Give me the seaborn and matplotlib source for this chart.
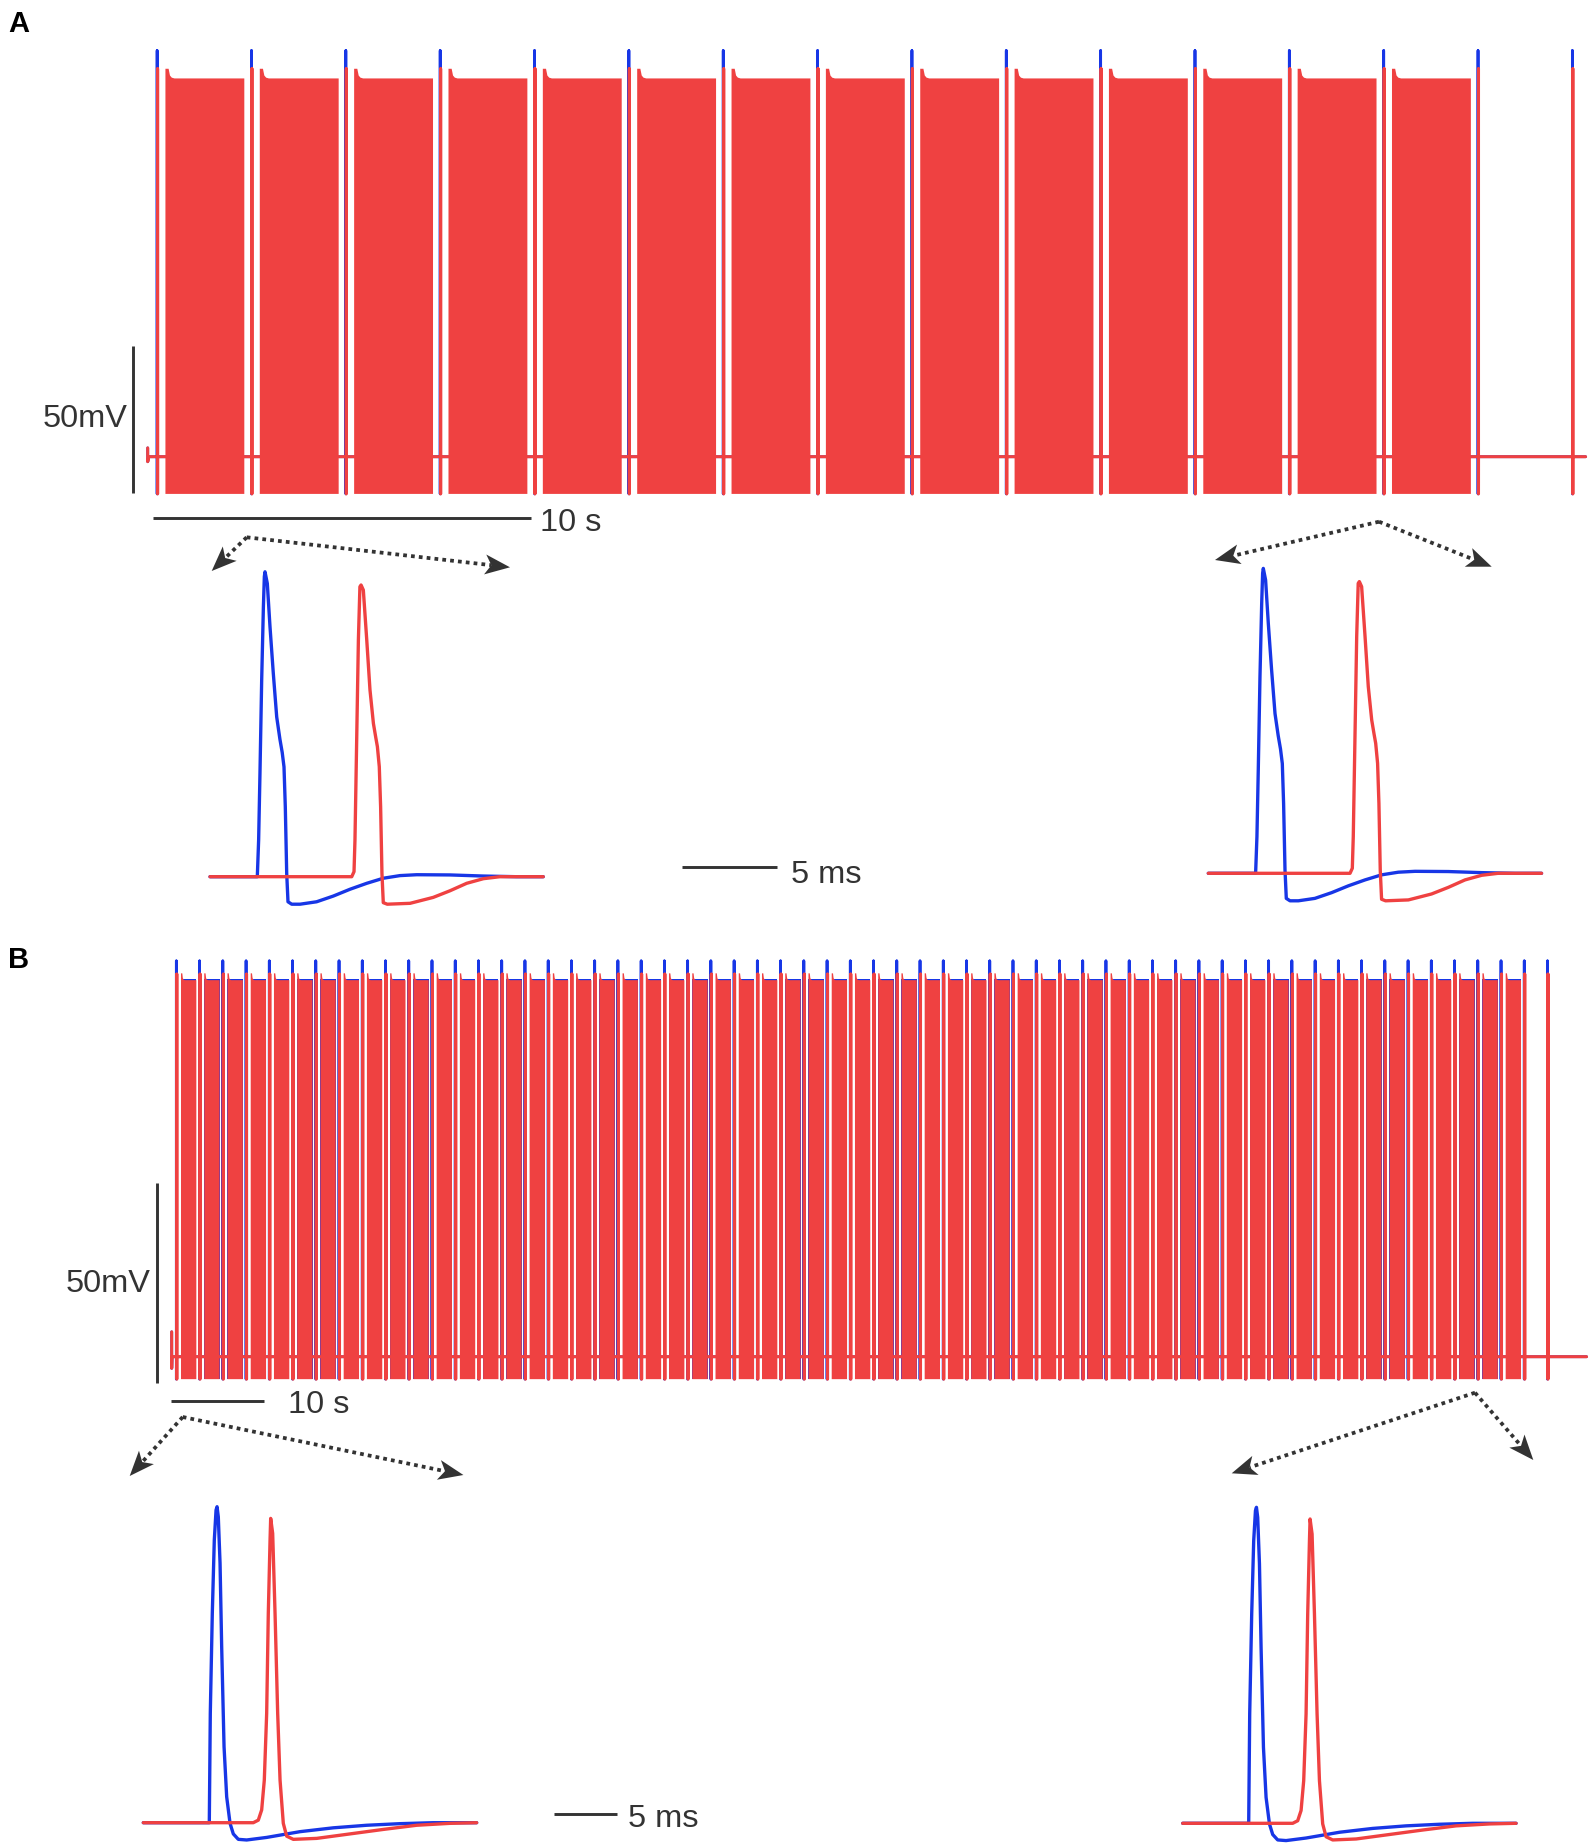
import matplotlib
matplotlib.use("Agg")
import matplotlib.pyplot as plt
import numpy as np
import pandas as pd
import seaborn as sns

W, H = 1594, 1848
RED = "#EF4141"
BLUE = "#1736E6"
INK = "#333333"

# ------------------------------------------------------------------
# Panel A: long recording (time in s, voltage in mV)
# ------------------------------------------------------------------
A_spikes = [0.25, 2.75, 5.25, 7.75, 10.25, 12.75, 15.25, 17.75,
            20.25, 22.75, 25.25, 27.75, 30.25, 32.75, 35.25, 37.75]
A_n_bursts = 14          # bursts follow the first 14 single spikes
A_burst_lag = 0.22       # s after the spike
A_burst_len = 2.09       # s
A_t_end = 38.1
A_rest = -65.0
A_blue_peak = 73.6
A_red_peak = 67.4
A_burst_top = 64.1
A_burst_bump = 67.4
A_trough = -77.7
A_start_tick = (-62.0, -66.7)

# ------------------------------------------------------------------
# Panel B: long recording
# ------------------------------------------------------------------
B_spikes = [0.5, 3.0, 5.5, 8.0, 10.5, 13.0, 15.5, 18.0, 20.5, 23.0,
            25.5, 28.0, 30.5, 33.0, 35.5, 38.0, 40.5, 43.0, 45.5, 48.0,
            50.5, 53.0, 55.5, 58.0, 60.5, 63.0, 65.5, 68.0, 70.5, 73.0,
            75.5, 78.0, 80.5, 83.0, 85.5, 88.0, 90.5, 93.0, 95.5, 98.0,
            100.5, 103.0, 105.5, 108.0, 110.5, 113.0, 115.5, 118.0, 120.5, 123.0,
            125.5, 128.0, 130.5, 133.0, 135.5, 138.0, 140.5, 143.0, 145.5, 148.0]
B_n_bursts = 58
B_burst_lag = 0.5
B_burst_len = 1.65
B_t_end = 152.2
B_rest = -65.0
B_blue_peak = 33.7
B_red_peak = 30.4
B_burst_top = 28.9
B_blue_burst_top = 29.3
B_burst_bump = 30.6
B_trough = -70.6
B_start_tick = (-58.8, -67.9)

# ------------------------------------------------------------------
# Zoomed single spikes (time in ms, voltage in mV)
# ------------------------------------------------------------------
A_ins_blue_t = [0, 2.49, 2.56, 2.63, 2.72, 2.81, 2.86, 2.895, 3.016, 3.158, 3.332,
                3.511, 3.68, 3.80, 3.895, 3.963, 4.037, 4.105, 4.3, 4.74, 5.61, 6.49,
                7.37, 8.25, 9.12, 10.0, 10.88, 12.63, 14.39, 16.14, 17.54]
A_ins_blue_v = [-65, -65, -48.3, -18.0, 24.4, 57.7, 71.4, 73.6, 68.3, 48.6, 27.4,
                7.6, -2.5, -8.5, -15.1, -33.2, -63.5, -76.4, -77.5, -77.5, -76.4, -73.8,
                -70.7, -68.0, -65.7, -64.5, -64.1, -64.2, -64.7, -65, -65]
A_ins_red_t = [0, 7.46, 7.58, 7.63, 7.72, 7.81, 7.89, 7.95, 8.07, 8.25, 8.42,
               8.6, 8.72, 8.81, 8.91, 8.98, 9.05, 9.12, 9.33, 10.53, 11.75, 12.63,
               13.51, 14.39, 15.26, 17.54]
A_ins_red_v = [-65, -65, -62.7, -48.3, -2.9, 42.6, 66.8, 67.6, 65.3, 42.6, 19.9,
               4.7, -1.5, -5.9, -15.0, -33.2, -63.5, -76.8, -77.5, -77.1, -74.4, -71.4,
               -68.0, -65.9, -65, -65]

B_ins_blue_t = [0, 5.28, 5.36, 5.52, 5.68, 5.82, 5.9, 6.0, 6.14, 6.27, 6.46,
                6.67, 6.94, 7.2, 7.6, 8.27, 9.87, 12.54, 15.2, 17.87, 20.54,
                23.2, 26.67]
B_ins_blue_v = [-65, -65, -30.8, 0.4, 23.3, 32.7, 33.75, 30.6, 16.1, -10.0, -41.25,
                -56.9, -65.2, -68.5, -70.2, -70.4, -69.6, -67.8, -66.6, -65.8, -65.3,
                -65, -65]
B_ins_red_t = [0, 8.8, 9.2, 9.47, 9.68, 9.87, 10.0, 10.14, 10.19, 10.35, 10.54,
               10.75, 10.94, 11.2, 11.47, 12.0, 13.87, 16.54, 19.2, 21.87, 24.54,
               26.67]
B_ins_red_v = [-65, -65, -64.2, -61.0, -51.7, -30.8, 0.4, 23.3, 30.1, 25.4, 0.4,
               -30.8, -51.7, -65.2, -69.2, -70.2, -69.9, -68.5, -67.1, -65.8, -65.2,
               -65]

FONT = 23.4


def px_axes(fig, box, x_ref, ppx, y_ref, ppy):
    """Axes over a pixel box, with data units mapped by px-per-unit."""
    l, t, r, b = box
    ax = fig.add_axes([l / W, 1 - b / H, (r - l) / W, (b - t) / H])
    xpx, xval = x_ref
    ypx, yval = y_ref
    ax.set_xlim(xval + (l - xpx) / ppx, xval + (r - xpx) / ppx)
    ax.set_ylim(yval - (b - ypx) / ppy, yval + (ypx - t) / ppy)
    ax.set_axis_off()
    return ax


def line(ax, t, v, color, lw, z):
    df = pd.DataFrame({"t": t, "v": v})
    sns.lineplot(data=df, x="t", y="v", sort=False, estimator=None,
                 color=color, lw=lw, ax=ax, zorder=z, legend=False)


def spike_train(spikes, rest, peak, trough, tick, t_end, shift=0.0):
    t = [0.0, 0.0, 0.03]
    v = [tick[0], tick[1], rest]
    for s in spikes:
        s = s + shift
        t += [s, s, s, s + 1e-3]
        v += [rest, peak, trough, rest]
    t.append(t_end)
    v.append(rest)
    return t, v


def bursts(ax, spikes, n, lag, dur, top, bump, trough, bump_w, color, z):
    d = bump - top
    for s in spikes[:n]:
        on, off = s + lag, s + lag + dur
        xs = [on, on, on + 0.35 * bump_w, on + 0.5 * bump_w, on + 0.7 * bump_w,
              on + bump_w, off, off]
        ys = [trough, bump, bump, top + 0.3 * d, top + 0.08 * d, top, top, trough]
        ax.fill(xs, ys, color=color, lw=0, zorder=z)


def vbar(ax, x, y0, y1):
    ax.plot([x, x], [y0, y1], color=INK, lw=2.1, solid_capstyle="butt", clip_on=False)


def hbar(ax, x0, x1, y):
    ax.plot([x0, x1], [y, y], color=INK, lw=2.1, solid_capstyle="butt", clip_on=False)


def label(ax, x, y, s, ha="left"):
    ax.text(x, y, s, ha=ha, va="baseline", fontsize=FONT, color=INK)


sns.set_theme(style="white")
plt.rcParams["font.family"] = ["Liberation Sans", "DejaVu Sans"]

fig = plt.figure(figsize=(W / 100, H / 100), dpi=100)
fig.patch.set_facecolor("white")

# ---------------- Panel A main trace ----------------
axA = px_axes(fig, (95, 30, 1594, 545), (147.7, 0.0), 37.74, (456.7, -65.0), 2.93)
bt, bv = spike_train(A_spikes, A_rest, A_blue_peak, A_trough, A_start_tick, A_t_end)
line(axA, bt, bv, BLUE, 2.0, 2)
bursts(axA, A_spikes, A_n_bursts, A_burst_lag, A_burst_len, A_burst_top,
       A_burst_bump, A_trough, 0.24, RED, 3)
rt, rv = spike_train(A_spikes, A_rest, A_red_peak, A_trough, A_start_tick, A_t_end, shift=0.012)
line(axA, rt, rv, RED, 2.2, 4)
vbar(axA, -0.384, -77.35, -27.35)
label(axA, -0.538, -55.0, "50mV", ha="right")
hbar(axA, 0.15, 10.15, -86.0)
label(axA, 10.4, -90.5, "10 s")

# ---------------- Panel A zoomed spikes ----------------
for box, xr, yr in [((190, 555, 900, 925), (210.0, 0.0), (876.7, -65.0)),
                    ((1190, 555, 1594, 925), (1208.3, 0.0), (873.3, -65.0))]:
    ax = px_axes(fig, box, xr, 19.0, yr, 2.2)
    line(ax, A_ins_blue_t, A_ins_blue_v, BLUE, 2.4, 2)
    line(ax, A_ins_red_t, A_ins_red_v, RED, 2.4, 3)
    if xr[0] < 500:
        hbar(ax, 24.83, 29.83, -60.7)
        label(ax, 30.6, -67.9, "5 ms")

# ---------------- Panel B main trace ----------------
axB = px_axes(fig, (95, 940, 1594, 1425), (171.7, 0.0), 9.296, (1356.7, -65.0), 4.01)
bt, bv = spike_train(B_spikes, B_rest, B_blue_peak, B_trough, B_start_tick, B_t_end)
line(axB, bt, bv, BLUE, 2.0, 2)
bursts(axB, B_spikes, B_n_bursts, B_burst_lag, B_burst_len, B_blue_burst_top,
       B_blue_burst_top, B_trough, 0.01, BLUE, 2.5)
bursts(axB, B_spikes, B_n_bursts, B_burst_lag, B_burst_len, B_burst_top,
       B_burst_bump, B_trough, 0.4, RED, 3)
rt, rv = spike_train(B_spikes, B_rest, B_red_peak, B_trough, B_start_tick, B_t_end, shift=0.05)
line(axB, rt, rv, RED, 2.2, 4)
vbar(axB, -1.58, -71.6, -21.6)
label(axB, -2.33, -48.8, "50mV", ha="right")
hbar(axB, -0.11, 9.89, -76.05)
label(axB, 12.5, -79.1, "10 s")

# ---------------- Panel B zoomed spikes ----------------
for box, xr, yr in [((120, 1480, 750, 1848), (143.3, 0.0), (1822.7, -65.0)),
                    ((1165, 1480, 1594, 1848), (1182.7, 0.0), (1823.3, -65.0))]:
    ax = px_axes(fig, box, xr, 12.5, yr, 3.2)
    line(ax, B_ins_blue_t, B_ins_blue_v, BLUE, 2.4, 2)
    line(ax, B_ins_red_t, B_ins_red_v, RED, 2.4, 3)
    if xr[0] < 500:
        hbar(ax, 32.86, 37.86, -62.4)
        label(ax, 38.78, -66.3, "5 ms")

# ---------------- Overlay: panel letters and zoom arrows ----------------
ov = fig.add_axes([0, 0, 1, 1])
ov.set_xlim(0, W)
ov.set_ylim(H, 0)
ov.set_axis_off()
ov.patch.set_alpha(0)

ov.text(8, 32, "A", fontsize=21, fontweight="bold", color="black", va="baseline")
ov.text(8, 968, "B", fontsize=21, fontweight="bold", color="black", va="baseline")

arrows = [((246.7, 537.3), (211.7, 571.0), (510.0, 567.3)),
          ((1379.0, 521.7), (1215.0, 560.0), (1491.7, 566.7)),
          ((182.7, 1417.0), (129.7, 1476.0), (463.4, 1475.0)),
          ((1475.0, 1392.7), (1231.7, 1473.3), (1533.3, 1460.0))]

HEAD_L, HEAD_W = 25.0, 20.0
for apex, *tips in arrows:
    for tip in tips:
        p0 = np.array(apex)
        p1 = np.array(tip)
        d = (p1 - p0) / np.linalg.norm(p1 - p0)
        n = np.array([-d[1], d[0]])
        back = p1 - d * HEAD_L
        notch = p1 - d * HEAD_L * 0.75
        ov.plot([p0[0], notch[0]], [p0[1], notch[1]], color=INK, lw=2.7,
                linestyle=(0, (1, 1.1)), dash_capstyle="butt")
        head = np.array([p1, back + n * HEAD_W / 2, notch, back - n * HEAD_W / 2])
        ov.fill(head[:, 0], head[:, 1], color=INK, lw=0)

fig.savefig("out.png", dpi=100, facecolor="white")
